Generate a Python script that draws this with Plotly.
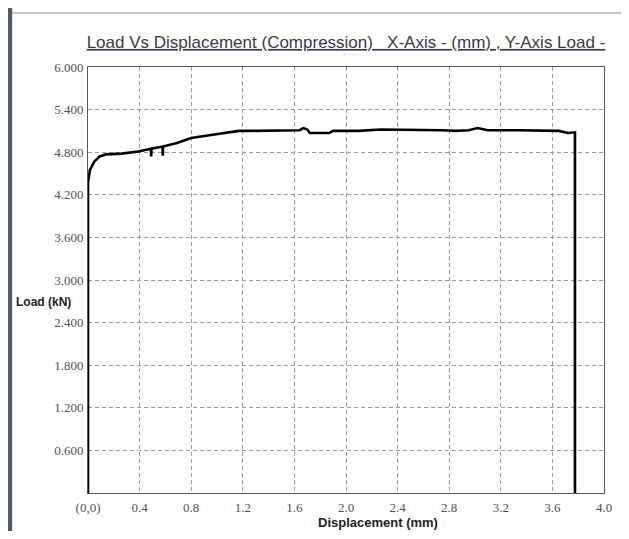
import plotly.graph_objects as go

# Data (displacement in mm, load in kN)
displacement = [0.0, 0.0, 0.015, 0.05, 0.09, 0.14, 0.26, 0.39, 0.47, 0.488, 0.49, 0.492,
                0.55, 0.578, 0.58, 0.582, 0.69, 0.80, 0.94, 1.07, 1.17, 1.25, 1.50, 1.64,
                1.67, 1.70, 1.72, 1.87, 1.90, 2.10, 2.27, 2.47, 2.50, 2.75, 2.85, 2.95,
                3.02, 3.10, 3.34, 3.50, 3.65, 3.72, 3.76, 3.775, 3.775]
load = [0.0, 4.37, 4.55, 4.67, 4.74, 4.77, 4.78, 4.81, 4.84, 4.85, 4.74, 4.85,
        4.87, 4.88, 4.75, 4.88, 4.93, 5.00, 5.04, 5.07, 5.10, 5.10, 5.10, 5.11,
        5.14, 5.12, 5.07, 5.07, 5.10, 5.10, 5.12, 5.12, 5.11, 5.11, 5.10, 5.11,
        5.14, 5.11, 5.11, 5.10, 5.10, 5.07, 5.08, 5.08, 0.0]

x_ticks = [0.0, 0.4, 0.8, 1.2, 1.6, 2.0, 2.4, 2.8, 3.2, 3.6, 4.0]
x_labels = ["(0,0)", "0.4", "0.8", "1.2", "1.6", "2.0", "2.4", "2.8", "3.2", "3.6", "4.0"]
y_ticks = [0.0, 0.6, 1.2, 1.8, 2.4, 3.0, 3.6, 4.2, 4.8, 5.4, 6.0]
y_labels = ["", "0.600", "1.200", "1.800", "2.400", "3.000", "3.600", "4.200", "4.800", "5.400", "6.000"]

title_text = "Load Vs Displacement (Compression)   X-Axis - (mm) , Y-Axis Load -"

# page offset of the figure (browser body margin); keep figure inside the window
OFF = 8
W, H = 629 - 2 * OFF, 539 - 2 * OFF
PL, PR, PT, PB = 88, 612, 67, 493   # plot area in page pixels


def px(page_x):
    return (page_x - PL) / (PR - PL)


def py(page_y):
    return (PB - page_y) / (PB - PT)


fig = go.Figure()
fig.add_trace(go.Scatter(x=displacement, y=load, mode="lines",
                         line=dict(color="#000000", width=2.6), showlegend=False,
                         hoverinfo="skip"))

axis_common = dict(
    showgrid=True, gridcolor="#9a9a9a", griddash="4px,3px", gridwidth=1,
    showline=True, linecolor="#555555", linewidth=1, mirror=True,
    zeroline=False, ticks="",
    tickfont=dict(family="Liberation Serif", size=13, color="#505050"),
)

fig.update_layout(
    width=W, height=H,
    margin=dict(l=PL - OFF, r=W - (PR - OFF), t=PT - OFF, b=H - (PB - OFF)),
    paper_bgcolor="white", plot_bgcolor="white",
    title=dict(text=title_text, xref="container", yref="container",
               x=(346 - OFF) / W, y=1 - (42 - OFF) / H, xanchor="center", yanchor="middle",
               font=dict(family="Liberation Sans", size=17, color="#363b48",
                         lineposition="under")),
    xaxis=dict(range=[0, 4.0], tickvals=x_ticks, ticktext=x_labels,
               ticklabelstandoff=2, **axis_common),
    yaxis=dict(range=[0, 6.0], tickvals=y_ticks, ticktext=y_labels,
               ticklabelstandoff=1, **axis_common),
)

fig.add_annotation(text="<b>Load (kN)</b>", xref="paper", yref="paper",
                   x=px(73), y=py(302), xanchor="right", yanchor="middle",
                   showarrow=False,
                   font=dict(family="Liberation Sans", size=12, color="#222222"))
fig.add_annotation(text="<b>Displacement (mm)</b>", xref="paper", yref="paper",
                   x=px(382), y=py(522), xanchor="center", yanchor="middle",
                   showarrow=False,
                   font=dict(family="Liberation Sans", size=13, color="#222222"))
fig.add_annotation(text="˝ ˙˙˙", xref="paper", yref="paper",
                   x=px(355), y=py(58), xanchor="center", yanchor="middle",
                   showarrow=False,
                   font=dict(family="Liberation Sans", size=9, color="#aaaaaa"))

# window frame decoration
fig.add_shape(type="rect", xref="paper", yref="paper",
              x0=px(6), x1=px(11), y0=py(545), y1=py(5),
              fillcolor="#4f5a66", line=dict(width=0), layer="above")
fig.add_shape(type="line", xref="paper", yref="paper",
              x0=px(11), x1=px(640), y0=py(13), y1=py(13),
              line=dict(color="#8a8a8a", width=1.2))

fig.write_html("out.html")
